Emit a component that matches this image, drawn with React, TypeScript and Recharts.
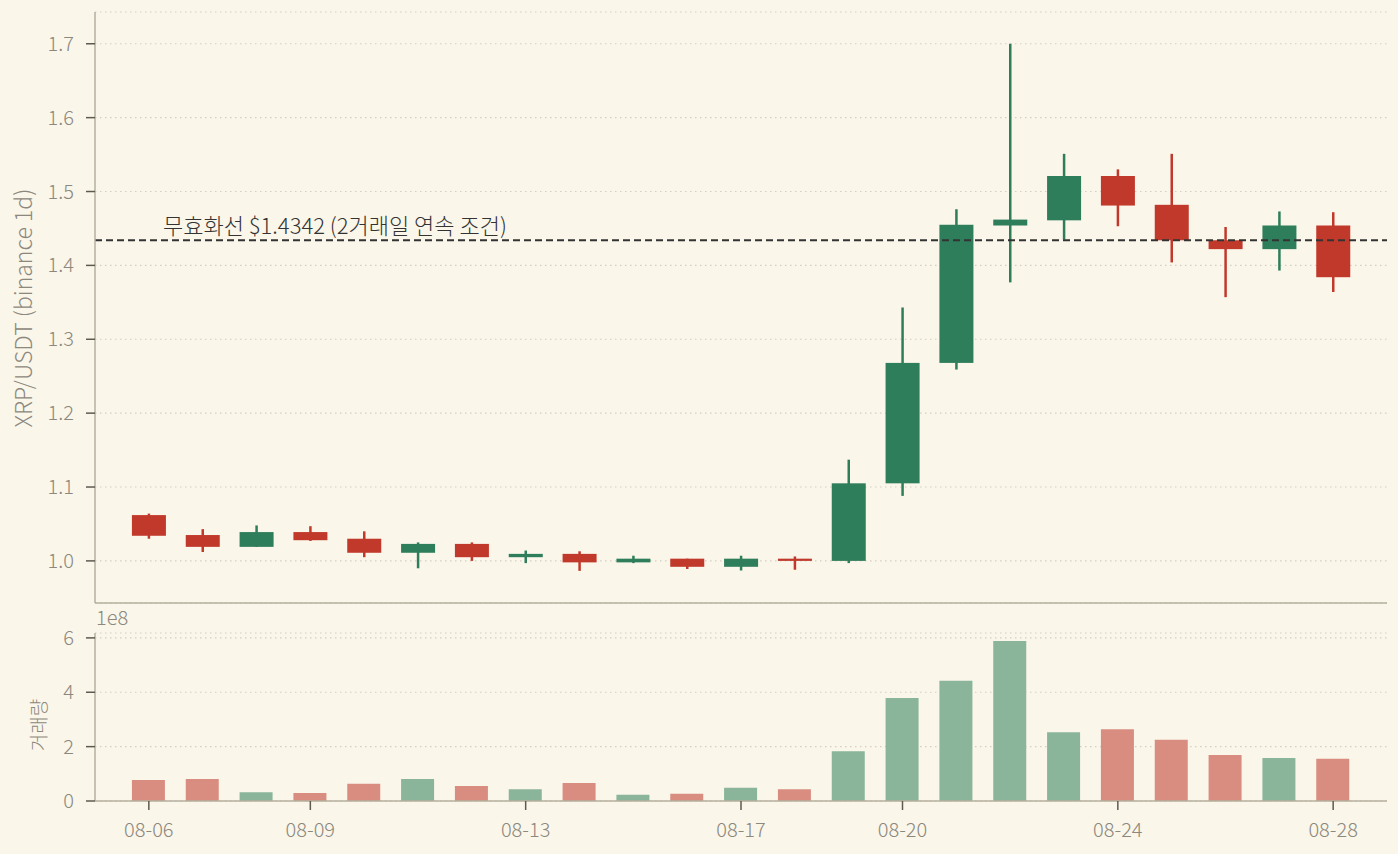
import { Bar, CartesianGrid, Cell, ComposedChart, ReferenceLine, XAxis, YAxis } from "recharts";

// daily XRP/USDT candles, 08-06 .. 08-28
const dates = [
  "08-06", "08-07", "08-08", "08-09", "08-10", "08-11", "08-12", "08-13",
  "08-14", "08-15", "08-16", "08-17", "08-18", "08-19", "08-20", "08-21",
  "08-22", "08-23", "08-24", "08-25", "08-26", "08-27", "08-28",
];
const opens = [
  1.062, 1.035, 1.019, 1.039, 1.03, 1.011, 1.023, 1.005, 1.0095, 0.998, 1.003, 0.992,
  1.003, 1.0, 1.105, 1.268, 1.454, 1.461, 1.521, 1.482, 1.434, 1.422, 1.454,
];
const highs = [
  1.064, 1.043, 1.048, 1.047, 1.04, 1.025, 1.025, 1.014, 1.013, 1.007, 1.003, 1.007,
  1.006, 1.137, 1.343, 1.476, 1.7, 1.551, 1.53, 1.551, 1.452, 1.473, 1.472,
];
const lows = [
  1.03, 1.012, 1.019, 1.027, 1.005, 0.99, 1.0, 0.997, 0.9865, 0.997, 0.989, 0.987,
  0.988, 0.997, 1.088, 1.259, 1.377, 1.435, 1.453, 1.404, 1.357, 1.393, 1.364,
];
const closes = [
  1.034, 1.019, 1.039, 1.028, 1.011, 1.023, 1.005, 1.0095, 0.998, 1.003, 0.992, 1.003,
  1.0, 1.105, 1.268, 1.455, 1.462, 1.521, 1.481, 1.434, 1.422, 1.454, 1.384,
];
// volume in units of 1e8
const volumes = [
  0.77, 0.81, 0.32, 0.29, 0.63, 0.81, 0.55, 0.43, 0.66, 0.23, 0.27, 0.49,
  0.43, 1.83, 3.79, 4.42, 5.89, 2.53, 2.64, 2.25, 1.69, 1.58, 1.55,
];
const invalidation = 1.4342;
const dateTicks = [0, 3, 7, 11, 14, 18, 22];
const priceTicks = [1.0, 1.1, 1.2, 1.3, 1.4, 1.5, 1.6, 1.7];
const volumeTicks = [0, 2, 4, 6];

const rows = dates.map((date, i) => ({
  i,
  date,
  open: opens[i],
  high: highs[i],
  low: lows[i],
  close: closes[i],
  range: [lows[i], highs[i]],
  vol: volumes[i],
  up: closes[i] >= opens[i],
}));

const BG = "#FAF6EA";
const UP = "#2E7D5B";
const DOWN = "#C0392B";
const UP_VOL = "#8AB59A";
const DOWN_VOL = "#D98C80";
const FONT = "'Noto Sans CJK KR', 'Noto Sans', sans-serif";
const TICK_TEXT = { fill: "#8C887D", fontSize: 20, fontWeight: 300, fontFamily: FONT };
const AXIS_LINE = { stroke: "#B5AF9C", strokeWidth: 1.5 };
const TICK_LINE = { stroke: "#5E5A50", strokeWidth: 1.5 };

function Candle(props: any) {
  const { x, y, width, height, payload } = props;
  if (x == null || y == null) return null;
  const top = Math.min(y, y + height);
  const h = Math.abs(height);
  const span = payload.high - payload.low || 1;
  const yOf = (v: number) => top + ((payload.high - v) / span) * h;
  const bodyTop = yOf(Math.max(payload.open, payload.close));
  const bodyBottom = yOf(Math.min(payload.open, payload.close));
  const color = payload.up ? UP : DOWN;
  const cx = x + width / 2;
  return (
    <g>
      <line x1={cx} x2={cx} y1={top} y2={top + h} stroke={color} strokeWidth={2.5} />
      <rect
        x={x}
        y={bodyTop}
        width={width}
        height={Math.max(bodyBottom - bodyTop, 1.5)}
        fill={color}
      />
    </g>
  );
}

export default function App() {
  return (
    <div style={{ position: "fixed", inset: 0, background: BG, fontFamily: FONT }}>
      <div style={{ position: "absolute", left: 0, top: 0 }}>
        <ComposedChart
          width={1398}
          height={640}
          data={rows}
          margin={{ top: 12, right: 11, left: 0, bottom: 0 }}
        >
          <CartesianGrid
            vertical={false}
            stroke="#D3CEC1"
            strokeDasharray="1.5 3.5"
            strokeWidth={1.2}
          />
          <XAxis
            dataKey="i"
            type="number"
            domain={[-1, 23]}
            ticks={dateTicks}
            interval={0}
            height={37}
            axisLine={AXIS_LINE}
            tickLine={TICK_LINE}
            tickSize={9}
            tick={false}
          />
          <YAxis
            domain={[0.943, 1.743]}
            ticks={priceTicks}
            interval={0}
            width={95}
            allowDataOverflow
            axisLine={AXIS_LINE}
            tickLine={TICK_LINE}
            tickSize={9}
            tickMargin={12}
            tick={TICK_TEXT}
            tickFormatter={(v: number) => v.toFixed(1)}
            label={{
              content: () => (
                <text
                  x={32}
                  y={308}
                  transform="rotate(-90 32 308)"
                  textAnchor="middle"
                  fill="#8C887D"
                  fontSize={23}
                  fontWeight={300}
                  fontFamily={FONT}
                >
                  XRP/USDT (binance 1d)
                </text>
              ),
            }}
          />
          <ReferenceLine
            y={invalidation}
            stroke="#333333"
            strokeWidth={2}
            strokeDasharray="7 4"
            label={{
              content: (p: any) => (
                <text
                  x={(p.viewBox?.x ?? 95) + 68}
                  y={(p.viewBox?.y ?? 240) - 6}
                  fill="#333333"
                  fontSize={22}
                  fontWeight={300}
                  fontFamily={FONT}
                >
                  무효화선 $1.4342 (2거래일 연속 조건)
                </text>
              ),
            }}
          />
          <Bar dataKey="range" barSize={34} shape={Candle} isAnimationActive={false} />
        </ComposedChart>
      </div>
      <div style={{ position: "absolute", left: 0, top: 603 }}>
        <ComposedChart
          width={1398}
          height={251}
          data={rows}
          margin={{ top: 30, right: 11, left: 0, bottom: 0 }}
        >
          <CartesianGrid
            vertical={false}
            stroke="#D3CEC1"
            strokeDasharray="1.5 3.5"
            strokeWidth={1.2}
          />
          <XAxis
            dataKey="i"
            type="number"
            domain={[-1, 23]}
            ticks={dateTicks}
            interval={0}
            height={53}
            axisLine={AXIS_LINE}
            tickLine={TICK_LINE}
            tickSize={9}
            tickMargin={13}
            tick={TICK_TEXT}
            tickFormatter={(v: number) => dates[v] ?? ""}
          />
          <YAxis
            domain={[0, 6.18]}
            ticks={volumeTicks}
            interval={0}
            width={95}
            allowDataOverflow
            axisLine={AXIS_LINE}
            tickLine={TICK_LINE}
            tickSize={9}
            tickMargin={12}
            tick={TICK_TEXT}
            label={{
              content: () => (
                <g>
                  <text
                    x={96}
                    y={22}
                    fill="#8C887D"
                    fontSize={20}
                    fontWeight={300}
                    fontFamily={FONT}
                  >
                    1e8
                  </text>
                  <text
                    x={46}
                    y={122}
                    transform="rotate(-90 46 122)"
                    textAnchor="middle"
                    fill="#8C887D"
                    fontSize={19}
                    fontWeight={300}
                    fontFamily={FONT}
                  >
                    거래량
                  </text>
                </g>
              ),
            }}
          />
          <Bar dataKey="vol" barSize={33} isAnimationActive={false}>
            {rows.map((r) => (
              <Cell key={r.date} fill={r.up ? UP_VOL : DOWN_VOL} />
            ))}
          </Bar>
        </ComposedChart>
      </div>
    </div>
  );
}
